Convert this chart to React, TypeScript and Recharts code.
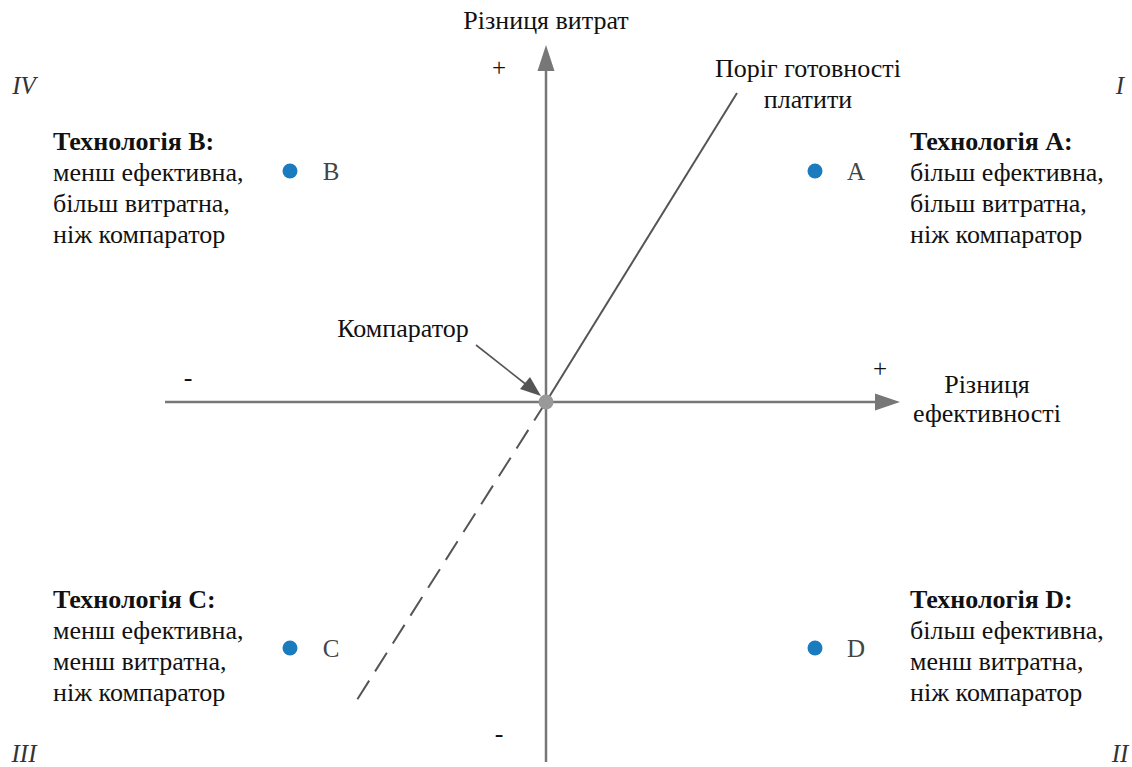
import React from "react";
import {
  ScatterChart,
  Scatter,
  XAxis,
  YAxis,
  ReferenceLine,
  Customized,
} from "recharts";

// Technologies plotted on the cost-effectiveness plane (effect diff, cost diff)
const techNames = ["A", "B", "C", "D"];
const effectDiff = [2.69, -2.56, -2.56, 2.69];
const costDiff = [2.31, 2.31, -2.46, -2.46];
const comparator = [{ x: 0, y: 0 }];

// willingness-to-pay threshold line (solid in +quadrant, dashed in -quadrant)
const thresholdUpper = [{ x: 0, y: 0 }, { x: 1.91, y: 3.09 }];
const thresholdLower = [{ x: 0, y: 0 }, { x: -1.91, y: -3.01 }];

// axis extents
const xAxisLine = [{ x: -3.81, y: 0 }, { x: 3.35, y: 0 }];
const yAxisLine = [{ x: 0, y: -3.6 }, { x: 0, y: 3.35 }];
const xArrow = [{ x: 3.42, y: 0 }];
const yArrow = [{ x: 0, y: 3.45 }];

const techTitles = ["Технологія A:", "Технологія B:", "Технологія C:", "Технологія D:"];
const techDesc = [
  ["більш ефективна,", "більш витратна,", "ніж компаратор"],
  ["менш ефективна,", "більш витратна,", "ніж компаратор"],
  ["менш ефективна,", "менш витратна,", "ніж компаратор"],
  ["більш ефективна,", "менш витратна,", "ніж компаратор"],
];
const quadrants = ["I", "IV", "III", "II"];

const points = techNames.map((n, i) => ({ name: n, x: effectDiff[i], y: costDiff[i] }));

const FONT = "'Liberation Serif', 'Times New Roman', serif";
const AXIS = "#777";

const ArrowRight = (p: any) => (
  <polygon
    points={`${p.cx + 12},${p.cy} ${p.cx - 13},${p.cy - 8.5} ${p.cx - 13},${p.cy + 8.5}`}
    fill={AXIS}
  />
);
const ArrowUp = (p: any) => (
  <polygon
    points={`${p.cx},${p.cy - 12} ${p.cx - 8.5},${p.cy + 14} ${p.cx + 8.5},${p.cy + 14}`}
    fill={AXIS}
  />
);

const TechDot = (p: any) => (
  <g>
    <circle cx={p.cx} cy={p.cy} r={7.5} fill="#1a7bbf" />
    <text
      x={p.cx + 41}
      y={p.cy + 9}
      textAnchor="middle"
      fontFamily={FONT}
      fontSize={25}
      fill="#444"
    >
      {p.payload.name}
    </text>
  </g>
);

const CompDot = (p: any) => <circle cx={p.cx} cy={p.cy} r={7.5} fill="#999" />;

const blockPos = [
  { x: 910, y: 150 },
  { x: 53, y: 150 },
  { x: 53, y: 608 },
  { x: 910, y: 608 },
];
const quadPos = [
  { x: 1120, y: 94 },
  { x: 24, y: 94 },
  { x: 24, y: 762 },
  { x: 1120, y: 762 },
];

const Annotations = () => (
  <g fontFamily={FONT} fill="#111">
    {techTitles.map((t, i) => (
      <text key={t} x={blockPos[i].x} y={blockPos[i].y} fontSize={26}>
        <tspan fontWeight="bold">{t}</tspan>
        {techDesc[i].map((l, j) => (
          <tspan key={j} x={blockPos[i].x} dy={31}>
            {l}
          </tspan>
        ))}
      </text>
    ))}
    {quadrants.map((q, i) => (
      <text
        key={q}
        x={quadPos[i].x}
        y={quadPos[i].y}
        fontSize={25}
        fontStyle="italic"
        textAnchor="middle"
        fill="#333"
      >
        {q}
      </text>
    ))}
    <text x={546} y={29} fontSize={26} textAnchor="middle">Різниця витрат</text>
    <text x={808} y={77} fontSize={26} textAnchor="middle">Поріг готовності</text>
    <text x={808} y={108} fontSize={26} textAnchor="middle">платити</text>
    <text x={987} y={393} fontSize={26} textAnchor="middle">Різниця</text>
    <text x={987} y={422} fontSize={26} textAnchor="middle">ефективності</text>
    <text x={403} y={337} fontSize={26} textAnchor="middle">Компаратор</text>
    <text x={499} y={76} fontSize={25} textAnchor="middle">+</text>
    <text x={880} y={377} fontSize={25} textAnchor="middle">+</text>
    <text x={188} y={386} fontSize={26} textAnchor="middle">-</text>
    <text x={499} y={742} fontSize={26} textAnchor="middle">-</text>
    <line x1={476} y1={345} x2={528} y2={386} stroke="#555" strokeWidth={1.6} />
    <polygon points="541,396 520,389 530,377" fill="#555" />
  </g>
);

export default function App() {
  return (
    <div style={{ position: "absolute", left: 0, top: 0, background: "#fff" }}>
      <ScatterChart
        width={1132}
        height={767}
        margin={{ top: 0, right: 0, bottom: 0, left: 0 }}
      >
        <XAxis type="number" dataKey="x" domain={[-5.46, 5.86]} hide />
        <YAxis type="number" dataKey="y" domain={[-3.65, 4.02]} hide />
        <ReferenceLine segment={xAxisLine} stroke={AXIS} strokeWidth={2.5} />
        <ReferenceLine segment={yAxisLine} stroke={AXIS} strokeWidth={2.5} />
        <ReferenceLine segment={thresholdUpper} stroke="#555" strokeWidth={2} />
        <ReferenceLine
          segment={thresholdLower}
          stroke="#555"
          strokeWidth={2}
          strokeDasharray="22 11"
        />
        <Scatter data={xArrow} shape={ArrowRight} isAnimationActive={false} />
        <Scatter data={yArrow} shape={ArrowUp} isAnimationActive={false} />
        <Scatter data={points} shape={TechDot} isAnimationActive={false} />
        <Scatter data={comparator} shape={CompDot} isAnimationActive={false} />
        <Customized component={Annotations} />
      </ScatterChart>
    </div>
  );
}
